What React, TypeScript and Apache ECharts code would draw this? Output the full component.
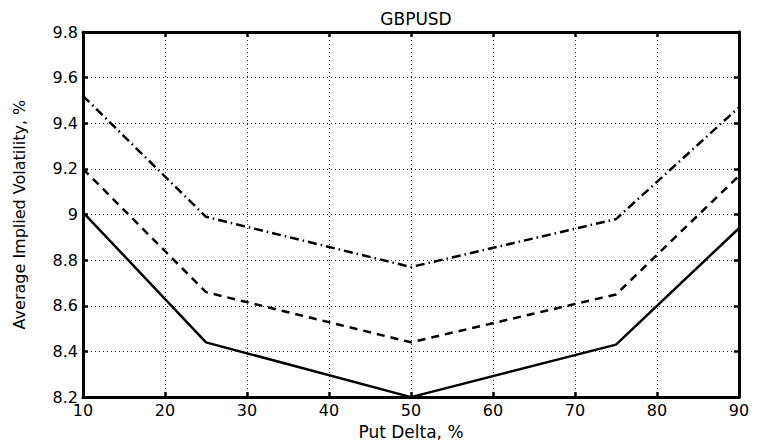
import React, { useEffect, useRef } from "react";
import * as echarts from "echarts";

const putDelta = [10, 25, 50, 75, 90];
const seriesSolid = [9.01, 8.44, 8.2, 8.43, 8.94];
const seriesDashed = [9.2, 8.66, 8.44, 8.65, 9.17];
const seriesDashDot = [9.52, 8.99, 8.77, 8.98, 9.47];
const titleText = "GBPUSD";
const xName = "Put Delta, %";
const yName = "Average Implied Volatility, %";

const FONT = "DejaVu Sans, Liberation Sans, Arial, sans-serif";

export default function App() {
  const ref = useRef<HTMLDivElement>(null);
  useEffect(() => {
    if (!ref.current) return;
    const chart = echarts.init(ref.current, undefined, { renderer: "svg" });
    const pair = (ys: number[]) => putDelta.map((x, i) => [x, ys[i]]);
    const gridLine = {
      show: true,
      lineStyle: { color: "#222", width: 1, type: [1, 3] as number[] },
    };
    const fmtY = (v: number) => String(parseFloat(v.toFixed(1)));
    const frameLine = { show: true, onZero: false, lineStyle: { color: "#000", width: 3 } };
    const frameTick = { show: true, inside: true, length: 5, lineStyle: { color: "#000", width: 2.5 } };
    chart.setOption({
      animation: false,
      backgroundColor: "#fff",
      title: {
        text: titleText,
        left: 411,
        textAlign: "center",
        top: 5,
        textStyle: { fontFamily: FONT, fontSize: 17, fontWeight: "normal", color: "#000" },
      },
      grid: { left: 83, right: 19, top: 32, bottom: 44, containLabel: false },
      xAxis: [
        {
          type: "value",
          min: 10,
          max: 90,
          interval: 10,
          position: "bottom",
          name: xName,
          nameLocation: "middle",
          nameGap: 25,
          nameTextStyle: { fontFamily: FONT, fontSize: 17, color: "#000" },
          axisLine: frameLine,
          axisTick: frameTick,
          axisLabel: { fontFamily: FONT, fontSize: 16, color: "#000", margin: 5 },
          splitLine: gridLine,
        },
        {
          type: "value",
          min: 10,
          max: 90,
          interval: 10,
          position: "top",
          axisLine: frameLine,
          axisTick: frameTick,
          axisLabel: { show: false },
          splitLine: { show: false },
        },
      ],
      yAxis: [
        {
          type: "value",
          min: 8.2,
          max: 9.8,
          interval: 0.2,
          position: "left",
          name: yName,
          nameLocation: "middle",
          nameGap: 56,
          nameTextStyle: { fontFamily: FONT, fontSize: 16, color: "#000" },
          axisLine: frameLine,
          axisTick: frameTick,
          axisLabel: { fontFamily: FONT, fontSize: 16, color: "#000", margin: 5, formatter: fmtY },
          splitLine: gridLine,
        },
        {
          type: "value",
          min: 8.2,
          max: 9.8,
          interval: 0.2,
          position: "right",
          axisLine: frameLine,
          axisTick: frameTick,
          axisLabel: { show: false },
          splitLine: { show: false },
        },
      ],
      series: [
        {
          type: "line",
          data: pair(seriesSolid),
          symbol: "none",
          lineStyle: { color: "#000", width: 2.5, type: "solid" },
        },
        {
          type: "line",
          data: pair(seriesDashed),
          symbol: "none",
          lineStyle: { color: "#000", width: 2.5, type: [8, 6] },
        },
        {
          type: "line",
          data: pair(seriesDashDot),
          symbol: "none",
          lineStyle: { color: "#000", width: 2.5, type: [9, 4, 1.5, 4] },
        },
      ],
    });
    return () => chart.dispose();
  }, []);
  return <div ref={ref} style={{ width: 758, height: 445, position: "absolute", left: 0, top: 0 }} />;
}
